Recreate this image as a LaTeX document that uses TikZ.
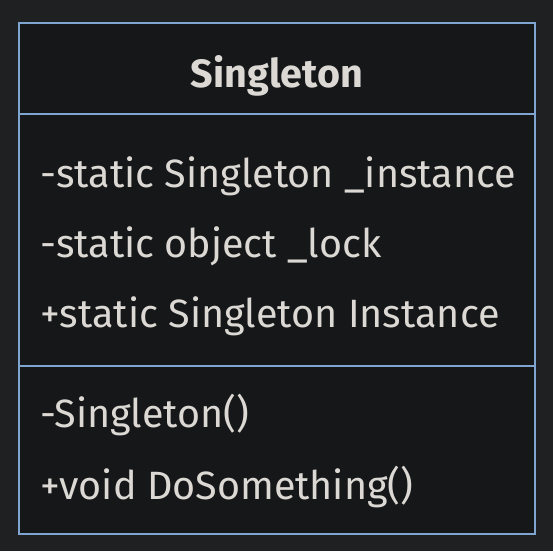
\documentclass[tikz,border=0pt]{standalone}
\usepackage{fontspec}
\setmainfont{Fira Sans}
\usepackage{xcolor}
\usetikzlibrary{positioning}
\definecolor{pagebg}{HTML}{1F2022}
\definecolor{boxbg}{HTML}{161719}
\definecolor{boxline}{HTML}{7EA6D0}
\definecolor{txt}{HTML}{DCD9D4}

\begin{document}
\begin{tikzpicture}[
    x=1pt, y=-1pt,
    % Styles for the class box
    classbox/.style={draw=boxline, line width=2.6pt, fill=boxbg},
    divider/.style={draw=boxline, line width=2.6pt},
    title/.style={text=txt, font=\fontsize{39.5}{42}\selectfont\bfseries, anchor=base},
    member/.style={text=txt, font=\fontsize{39.5}{42}\selectfont, anchor=base west, inner sep=0pt}
]

    % 1. Background and bounding box
    \fill[pagebg] (0,0) rectangle (553,551);
    \useasboundingbox (0,0) rectangle (553,551);

    % 2. The class box with its two dividers
    \draw[classbox] (19,23) rectangle (535,534);
    \coordinate (divA west) at (19,114);
    \coordinate (divA east) at (535,114);
    \coordinate (divB west) at (19,366);
    \coordinate (divB east) at (535,366);
    \draw[divider] (divA west) -- (divA east);
    \draw[divider] (divB west) -- (divB east);

    % 3. Class name
    \node[title] (name) at (277,87) {Singleton};

    % 4. Fields
    \node[member] (fieldA) at (40,187) {-static Singleton \_instance};
    \node[member] (fieldB) at (40,257) {-static object \_lock};
    \node[member] (fieldC) at (40,327) {+static Singleton Instance};

    % 5. Methods
    \node[member] (methodA) at (40,427) {-Singleton()};
    \node[member] (methodB) at (40,499) {+void DoSomething()};

\end{tikzpicture}
\end{document}
